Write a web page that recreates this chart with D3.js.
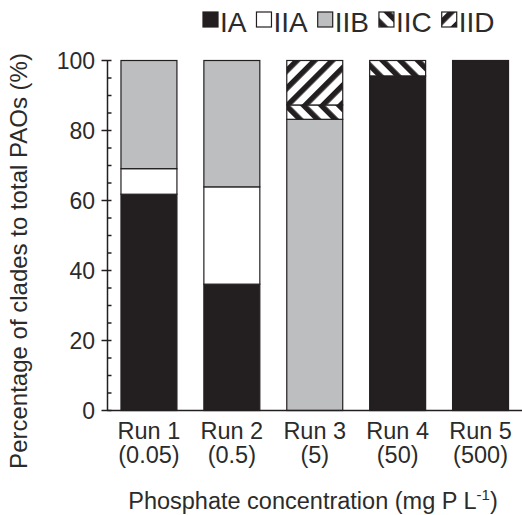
<!DOCTYPE html>
<html>
<head>
<meta charset="utf-8">
<script src="https://cdn.jsdelivr.net/npm/d3@7"></script>
<style>
  body { margin: 0; background: #fff; }
  svg { display: block; font-family: 'Liberation Sans', Arial, Helvetica, sans-serif; }
</style>
</head>
<body>
<div id="chart"></div>
<script>
const runs = ['Run 1', 'Run 2', 'Run 3', 'Run 4', 'Run 5'];
const concs = ['(0.05)', '(0.5)', '(5)', '(50)', '(500)'];
const clades = ['IA', 'IIA', 'IIB', 'IIC', 'IID'];
const IA = [61.8, 36.1, 0, 95.6, 100];
const IIA = [7.3, 27.8, 0, 0, 0];
const IIB = [30.9, 36.1, 83.2, 0, 0];
const IIC = [0, 0, 4.1, 4.4, 0];
const IID = [0, 0, 12.7, 0, 0];
const yTicks = [0, 20, 40, 60, 80, 100];

const width = 522, height = 515;
const ink = '#231f20';
const txt = '#2b2b2b';
const fills = { IA: ink, IIA: '#ffffff', IIB: '#bcbec0', IIC: 'url(#hatchC)', IID: 'url(#hatchD)' };

const rows = runs.map((r, i) => ({ run: r, IA: IA[i], IIA: IIA[i], IIB: IIB[i], IIC: IIC[i], IID: IID[i] }));

const svg = d3.select('#chart').append('svg')
  .attr('width', width).attr('height', height);

// hatch patterns
const defs = svg.append('defs');
function hatch(id, angle) {
  const p = defs.append('pattern')
    .attr('id', id)
    .attr('patternUnits', 'userSpaceOnUse')
    .attr('width', 12.5).attr('height', 12.5)
    .attr('patternTransform', `rotate(${angle})`);
  p.append('rect').attr('width', 12.5).attr('height', 12.5).attr('fill', '#fff');
  p.append('rect').attr('width', 5.5).attr('height', 12.5).attr('fill', ink);
}
hatch('hatchC', -45);
hatch('hatchD', 45);

const axisX = 107.5, axisRight = 522;
const y = d3.scaleLinear().domain([0, 100]).range([410.5, 60.5]);
const x = d3.scaleBand().domain(runs).range([axisX, axisRight]).paddingInner(0.325).paddingOuter(0.1625);

const stack = d3.stack().keys(clades)(rows);

// bars
svg.append('g').selectAll('g')
  .data(stack)
  .join('g')
  .attr('fill', d => fills[d.key])
  .selectAll('rect')
  .data(d => d.filter(s => s[1] - s[0] > 0))
  .join('rect')
  .attr('x', d => x(d.data.run))
  .attr('y', d => y(d[1]))
  .attr('width', x.bandwidth())
  .attr('height', d => y(d[0]) - y(d[1]))
  .attr('stroke', ink)
  .attr('stroke-width', 1.2);

// y axis
const ya = svg.append('g');
ya.append('line')
  .attr('x1', axisX).attr('x2', axisX)
  .attr('y1', y(100)).attr('y2', y(0))
  .attr('stroke', ink).attr('stroke-width', 1.5);
ya.selectAll('line.minor')
  .data(d3.range(0, 101, 5))
  .join('line')
  .attr('class', 'minor')
  .attr('x1', d => d % 20 === 0 ? axisX - 6 : axisX)
  .attr('x2', axisX + 4)
  .attr('y1', d => y(d)).attr('y2', d => y(d))
  .attr('stroke', ink).attr('stroke-width', 1.5);
ya.selectAll('text')
  .data(yTicks)
  .join('text')
  .attr('x', 95)
  .attr('y', d => y(d))
  .attr('dy', '0.36em')
  .attr('text-anchor', 'end')
  .attr('fill', txt)
  .style('font-size', '23px')
  .text(d => d);

// x axis
svg.append('line')
  .attr('x1', axisX).attr('x2', axisRight)
  .attr('y1', y(0)).attr('y2', y(0))
  .attr('stroke', ink).attr('stroke-width', 1.5);

const xl = svg.append('g').selectAll('text')
  .data(runs)
  .join('text')
  .attr('x', d => x(d) + x.bandwidth() / 2)
  .attr('text-anchor', 'middle')
  .attr('fill', txt)
  .style('font-size', '23.5px');
xl.append('tspan').attr('y', 439).text(d => d);
xl.append('tspan').attr('x', d => x(d) + x.bandwidth() / 2).attr('y', 463)
  .text((d, i) => concs[i]);

// axis titles
const xt = svg.append('text')
  .attr('x', 313).attr('y', 509)
  .attr('text-anchor', 'middle')
  .attr('fill', txt)
  .style('font-size', '23.5px');
xt.append('tspan').text('Phosphate concentration (mg P L');
xt.append('tspan').attr('dy', -9).style('font-size', '15px').text('-1');
xt.append('tspan').attr('dy', 9).text(')');

svg.append('text')
  .attr('transform', 'translate(27,261) rotate(-90)')
  .attr('text-anchor', 'middle')
  .attr('fill', txt)
  .style('font-size', '24px')
  .text('Percentage of clades to total PAOs (%)');

// legend
const leg = svg.append('g');
let lx = 203;
clades.forEach(c => {
  leg.append('rect')
    .attr('x', lx).attr('y', 12)
    .attr('width', 15).attr('height', 15)
    .attr('fill', fills[c])
    .attr('stroke', ink).attr('stroke-width', 1.2);
  const t = leg.append('text')
    .attr('x', lx + 17).attr('y', 32)
    .attr('fill', txt)
    .style('font-size', '28px')
    .text(c);
  lx += 17 + t.node().getComputedTextLength() + 10;
});
</script>
</body>
</html>
